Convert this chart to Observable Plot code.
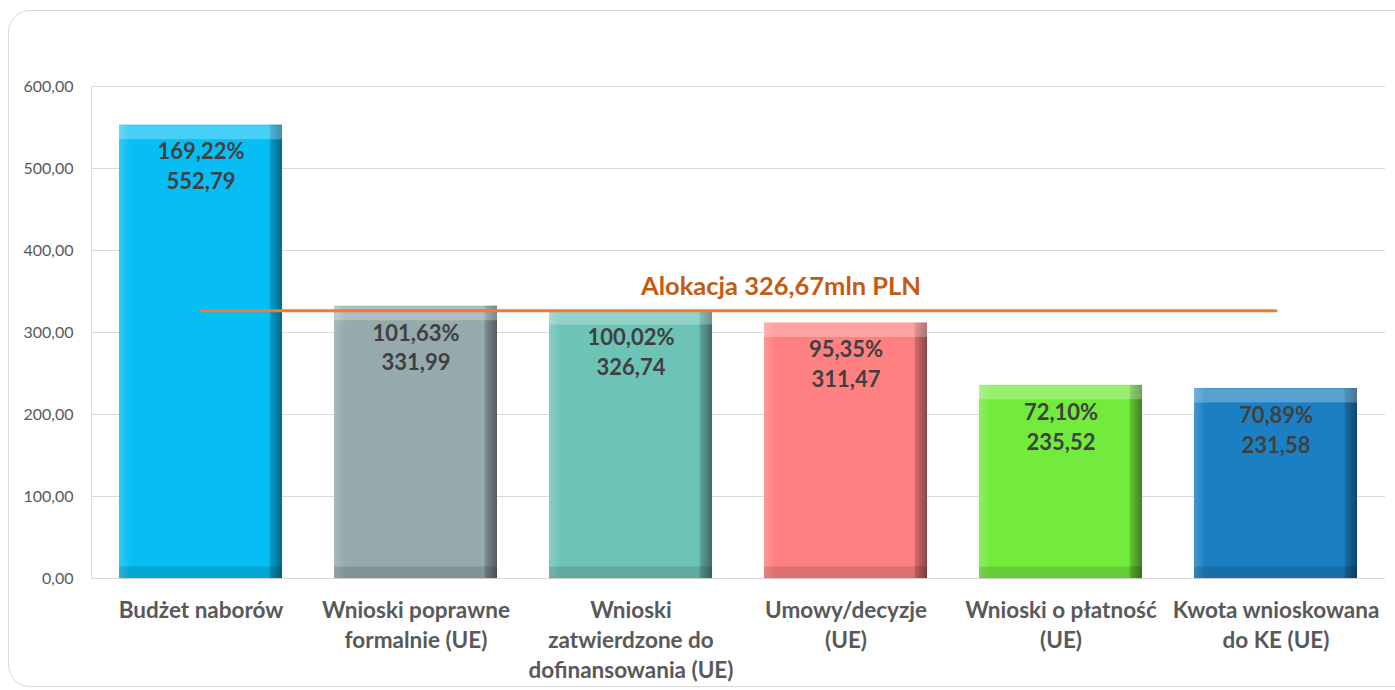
<!DOCTYPE html>
<html><head><meta charset="utf-8">
<script src="https://cdn.jsdelivr.net/npm/d3@7"></script>
<script src="https://cdn.jsdelivr.net/npm/@observablehq/plot@0.6"></script>
<style>
html,body{margin:0;padding:0;background:#fff;}
#wrap{position:relative;width:1395px;height:690px;overflow:hidden;}
#border{position:absolute;left:8px;top:10px;width:1420px;height:677px;border:1.5px solid #D9D9D9;border-radius:22px;box-sizing:border-box;}
#chart{position:absolute;left:0;top:0;}
</style></head><body>
<div id="wrap"><div id="border"></div><div id="chart"></div></div>
<script>
const categories = ["Budżet naborów", "Wnioski poprawne formalnie (UE)", "Wnioski zatwierdzone do dofinansowania (UE)", "Umowy/decyzje (UE)", "Wnioski o płatność (UE)", "Kwota wnioskowana do KE (UE)"];
const xTickLabels = ["Budżet naborów", "Wnioski poprawne\nformalnie (UE)", "Wnioski\nzatwierdzone do\ndofinansowania (UE)", "Umowy/decyzje\n(UE)", "Wnioski o płatność\n(UE)", "Kwota wnioskowana\ndo KE (UE)"];
const values = [552.79, 331.99, 326.74, 311.47, 235.52, 231.58];
const percentLabels = ["169,22%", "101,63%", "100,02%", "95,35%", "72,10%", "70,89%"];
const valueLabels = ["552,79", "331,99", "326,74", "311,47", "235,52", "231,58"];
const barColors = ["#06BEF4", "#96A9AD", "#6EC3B7", "#FF8080", "#73EB3C", "#1B80C3"];
const allocation = 326.67;
const allocationLabel = "Alokacja 326,67mln PLN";
const yTicks = [0, 100, 200, 300, 400, 500, 600];

const data = categories.map((c, i) => ({cat: c, value: values[i], label: percentLabels[i] + "\n" + valueLabels[i], color: barColors[i]}));
const allocLine = [{cat: categories[0], v: allocation}, {cat: categories[categories.length - 1], v: allocation}];
const allocText = [{cat: categories[2], v: allocation, t: allocationLabel}];

const chart = Plot.plot({
  width: 1395, height: 690,
  marginLeft: 91, marginRight: 10, marginTop: 86, marginBottom: 112,
  style: {fontFamily: "Lato, sans-serif", background: "transparent", overflow: "visible"},
  x: {domain: categories, paddingInner: 0.24, paddingOuter: 0.12, label: null},
  y: {domain: [0, 600], label: null},
  color: {type: "identity"},
  marks: [
    Plot.gridY(yTicks, {stroke: "#D9D9D9", strokeOpacity: 1, strokeWidth: 1}),
    Plot.frame({anchor: "left", stroke: "#D9D9D9", strokeOpacity: 1}),
    Plot.barY(data, {x: "cat", y: "value", fill: "color"}),
    Plot.barY(data, {x: "cat", y: "value", fill: "url(#bevelH)"}),
    Plot.tickY(data, {x: "cat", y: "value", stroke: "white", strokeOpacity: 0.26, strokeWidth: 14, dy: 7}),
    Plot.tickY(data, {x: "cat", y: d => 0, stroke: "black", strokeOpacity: 0.13, strokeWidth: 12, dy: -6}),
    Plot.text(data, {x: "cat", y: "value", text: "label", lineAnchor: "top", dy: 13, fontSize: 22, fontWeight: "bold", fill: "#404040", lineHeight: 1.36}),
    Plot.lineY(allocLine, {x: "cat", y: "v", stroke: "#ED7D31", strokeWidth: 3}),
    Plot.text(allocText, {x: "cat", y: "v", text: "t", textAnchor: "start", lineAnchor: "bottom", dx: 10, dy: -16, fontSize: 25.5, fontWeight: "bold", fill: "#C55A11"}),
    Plot.axisY(yTicks, {tickSize: 0, tickPadding: 18, tickFormat: d => d.toFixed(2).replace(".", ","), fontSize: 16, fill: "#595959", label: null}),
    Plot.axisX({tickSize: 0, tickPadding: 18, tickFormat: d => xTickLabels[categories.indexOf(d)], fontSize: 22.5, fontWeight: "bold", fill: "#595959", lineHeight: 1.33, label: null})
  ]
});

d3.select(chart).insert("defs", ":first-child").html(
  `<linearGradient id="bevelH" x1="0" x2="1" y1="0" y2="0">
     <stop offset="0" stop-color="white" stop-opacity="0.18"/>
     <stop offset="0.07" stop-color="white" stop-opacity="0"/>
     <stop offset="0.92" stop-color="black" stop-opacity="0"/>
     <stop offset="0.93" stop-color="black" stop-opacity="0.18"/>
     <stop offset="1" stop-color="black" stop-opacity="0.45"/>
   </linearGradient>`
);
document.getElementById("chart").appendChild(chart);
</script>
</body></html>
